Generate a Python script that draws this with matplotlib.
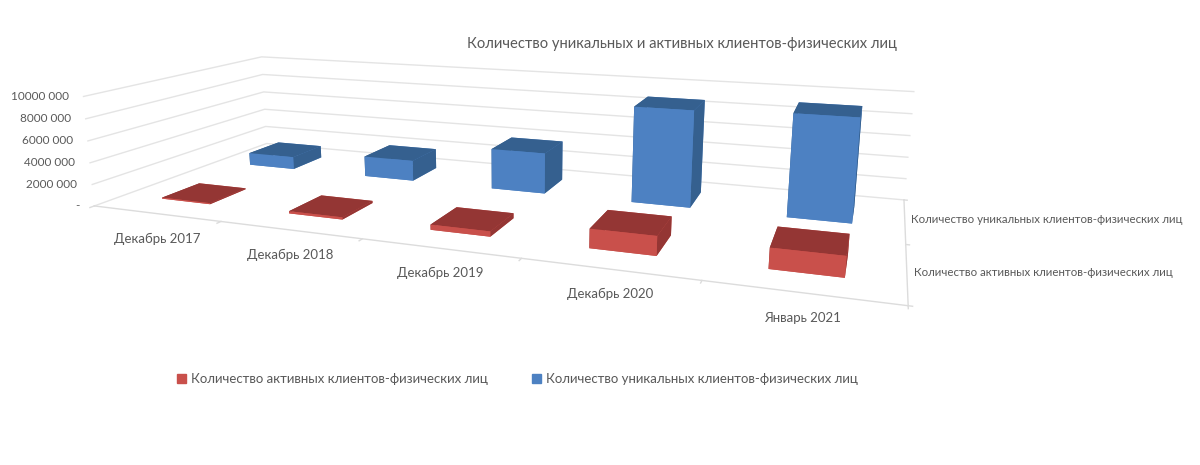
"""3D bars: unique and active individual clients by period."""

import matplotlib
matplotlib.use("Agg")
import matplotlib.pyplot as plt
import numpy as np
from mpl_toolkits.mplot3d import proj3d

plt.rcParams["font.family"] = ["Lato", "Open Sans", "DejaVu Sans"]

periods = ["Декабрь 2017", "Декабрь 2018", "Декабрь 2019", "Декабрь 2020", "Январь 2021"]
series_names = ["Количество активных клиентов-физических лиц",
                "Количество уникальных клиентов-физических лиц"]
active = [100000, 200000, 450000, 1600000, 1650000]
unique = [1250000, 2000000, 3850000, 8800000, 9100000]
z_ticks = [0, 2000000, 4000000, 6000000, 8000000, 10000000]
z_labels = ["-", "2000 000", "4000 000", "6000 000", "8000 000", "10000 000"]

TEXT = "#595959"
GRID = "#e4e4e4"
AXIS = "#dcdcdc"
RED_FRONT = "#c9504b"
RED_DARK = "#943634"
BLUE_FRONT = "#4d81c2"
BLUE_DARK = "#35608f"

BAR_W = 0.39
BAR_D = 0.4


def face_colors(front, dark, n):
    # bar3d face order: -z, +z, -y, +y, -x, +x
    return [front, dark, front, front, dark, dark] * n


def label_at(ax, x, y, z, text, dx, dy, **kw):
    px, py, _ = proj3d.proj_transform(x, y, z, ax.get_proj())
    ax.annotate(text, (px, py), xytext=(dx, dy), textcoords="offset pixels",
                annotation_clip=False, color=TEXT, va="center", **kw)


def main():
    fig = plt.figure(figsize=(12, 4.65), dpi=100)
    w, cx, cy = 803.33, 490.52, 305.0
    ax = fig.add_axes([(cx - w / 2) / 1200, (cy - w / 2) / 465, w / 1200, w / 465], projection="3d")
    ax.set_proj_type("persp", focal_length=0.2302)
    ax.view_init(elev=13.029, azim=-69.082, roll=0.188)
    ax.set_box_aspect((6.8132, 2.7220, 1.0))
    ax.set_axis_off()
    ax.computed_zorder = False

    n = len(periods)
    xs = np.arange(n)
    ax.bar3d(xs + 0.5 - BAR_W / 2, np.full(n, 1.52 - BAR_D / 2), 0, BAR_W, BAR_D, unique,
             color=face_colors(BLUE_FRONT, BLUE_DARK, n), shade=False, linewidth=0, zorder=3)
    ax.bar3d(xs + 0.5 - BAR_W / 2, np.full(n, 0.5 - BAR_D / 2), 0, BAR_W, BAR_D, active,
             color=face_colors(RED_FRONT, RED_DARK, n), shade=False, linewidth=0, zorder=4)

    ax.set_xlim(0, n, view_margin=0)
    ax.set_ylim(0, 2, view_margin=0)
    ax.set_zlim(0, 10000000, view_margin=0)

    # value gridlines along the left and back walls
    for z in z_ticks:
        ax.plot([0, 0, n], [0, 2, 2], [z, z, z], color=GRID, lw=1.0, zorder=1, clip_on=False)

    # floor edges and their ticks
    ax.plot([0, n, n], [0, 0, 2], [0, 0, 0], color=AXIS, lw=1.0, zorder=2, clip_on=False)
    for i in range(n + 1):
        ax.plot([i, i], [0, -0.04], [0, 0], color=AXIS, lw=1.0, zorder=2, clip_on=False)
    for j in range(3):
        ax.plot([n, n + 0.02], [j, j], [0, 0], color=AXIS, lw=1.0, zorder=2, clip_on=False)

    for i, name in enumerate(periods):
        label_at(ax, i + 0.5, 0, 0, name, 1, -25, ha="center", fontsize=9.5)
    for z, name in zip(z_ticks, z_labels):
        label_at(ax, 0, 0, z, name, -15, 0, ha="right", fontsize=8.5)
    label_at(ax, n, 1.5, 0, series_names[1], 6, 1, ha="left", fontsize=8.3)
    label_at(ax, n, 0.5, 0, series_names[0], 7, 0, ha="left", fontsize=8.3)

    fig.text(682 / 1200, 1 - 44 / 465, "Количество уникальных и активных клиентов-физических лиц",
             ha="center", va="center", fontsize=10.66, color=TEXT)

    handles = [plt.Rectangle((0, 0), 1, 1, color=c) for c in (RED_FRONT, BLUE_FRONT)]
    fig.legend(handles, series_names, loc="center", bbox_to_anchor=(517.5 / 1200, 1 - 379 / 465), ncol=2,
               frameon=False, fontsize=9.53, labelcolor=TEXT, handlelength=0.7, handleheight=0.7,
               columnspacing=3.3, handletextpad=0.4)

    fig.savefig("out.png", dpi=100)
    plt.close(fig)


if __name__ == "__main__":
    main()
